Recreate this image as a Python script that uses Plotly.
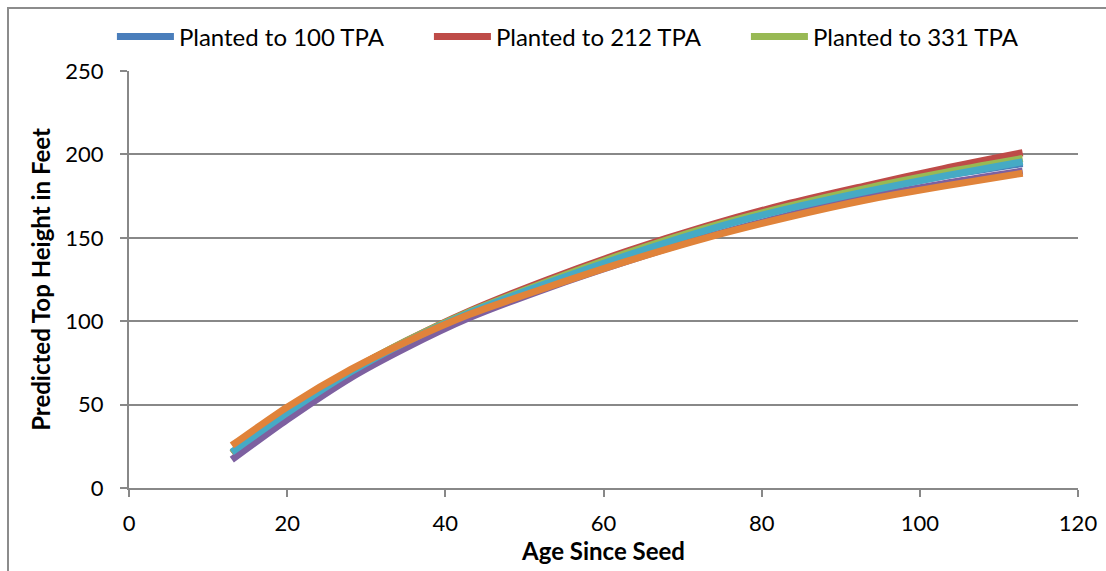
import plotly.graph_objects as go

# Stand age (years since seeding) at which heights were predicted
ages = [13, 20, 28, 35, 43, 53, 63, 73, 83, 93, 103, 113]

# Predicted top height (ft) for each planting density
h_100 = [21, 45, 69.5, 87.5, 105, 123.5, 140, 155, 167.5, 178, 187, 194.5]
h_212 = [21, 45, 70, 88, 106, 125, 142, 157, 170, 181, 191.5, 201]
h_331 = [21, 45, 70, 88, 105.5, 124, 141, 156, 168.5, 179.5, 189, 197.5]
h_s4 = [17, 41, 66, 84, 102, 120, 136, 150.5, 163, 174, 182.5, 190]
h_s5 = [21.5, 45, 69.5, 87.5, 105, 123, 139.5, 154.5, 167, 177.5, 187, 195.6]
h_s6 = [25.5, 48.5, 71, 87.5, 104, 120.5, 136, 150, 162, 172.5, 181, 188.7]

series = [
    ("Planted to 100 TPA", h_100, "#4A7EBB", True),
    ("Planted to 212 TPA", h_212, "#BE4B48", True),
    ("Planted to 331 TPA", h_331, "#98B954", True),
    ("Series 4", h_s4, "#7D60A0", False),
    ("Series 5", h_s5, "#46AAC5", False),
    ("Series 6", h_s6, "#E0833A", False),
]

fig = go.Figure()
for name, ys, color, show in series:
    fig.add_trace(go.Scatter(
        x=ages, y=ys, name=name, mode="lines",
        line=dict(color=color, width=7, shape="spline", smoothing=0.7),
        showlegend=show,
    ))

grid = "#888888"
font = "Lato, 'Open Sans', sans-serif"

fig.update_layout(
    width=1106, height=571,
    margin=dict(l=129, r=28, t=71, b=83, autoexpand=False),
    paper_bgcolor="white", plot_bgcolor="white",
    font=dict(family=font, size=22, color="black"),
    legend=dict(
        orientation="h", x=-0.018, y=(488 - 37) / 417, xanchor="left", yanchor="middle",
        entrywidth=245, entrywidthmode="pixels",
        font=dict(size=24), itemwidth=57,
        bgcolor="rgba(0,0,0,0)",
    ),
    xaxis=dict(
        range=[0, 120], dtick=20, showgrid=False,
        showline=True, linecolor=grid, linewidth=2,
        ticks="outside", ticklen=7, tickcolor=grid, tickwidth=2,
        ticklabelstandoff=8,
        title=dict(text="<b>Age Since Seed</b>", standoff=6, font=dict(size=24)),
        zeroline=False,
    ),
    yaxis=dict(
        range=[0, 250], dtick=50, showgrid=True, gridcolor=grid, gridwidth=2,
        showline=True, linecolor=grid, linewidth=2,
        ticks="outside", ticklen=7, tickcolor=grid, tickwidth=2,
        ticklabelstandoff=12,
        title=dict(text="<b>Predicted Top Height in Feet</b>", standoff=8, font=dict(size=24)),
        zeroline=False,
    ),
)

# Chart frame (extends past the right and bottom edges)
fig.add_shape(
    type="rect", xref="paper", yref="paper",
    x0=(8 - 129) / 949, x1=(1112 - 129) / 949,
    y0=(488 - 580) / 417, y1=(488 - 8) / 417,
    line=dict(color="#8c8c8c", width=2), fillcolor="rgba(0,0,0,0)", layer="below",
)

fig.write_html("out.html")
